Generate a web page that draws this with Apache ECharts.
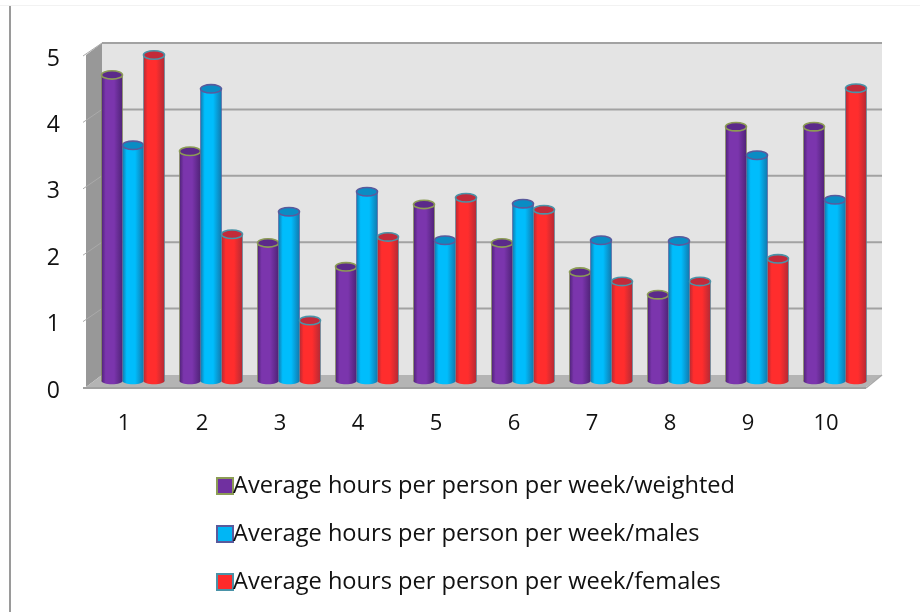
<!DOCTYPE html>
<html><head><meta charset="utf-8">
<style>html,body{margin:0;padding:0;background:#fff}#c{width:920px;height:612px}</style>
<script src="https://cdn.jsdelivr.net/npm/echarts@6/dist/echarts.min.js"></script>
</head><body><div id="c"></div>
<script>
const categories = ['1','2','3','4','5','6','7','8','9','10'];
const yTicks = [0,1,2,3,4,5];
const weighted = [4.61,3.46,2.08,1.72,2.66,2.08,1.64,1.3,3.83,3.83];
const males = [3.55,4.4,2.55,2.85,2.12,2.67,2.12,2.11,3.4,2.73];
const females = [4.91,2.21,0.91,2.17,2.76,2.58,1.5,1.5,1.84,4.41];
const seriesNames = ['Average hours per person per week/weighted','Average hours per person per week/males','Average hours per person per week/females'];

const depthX = 16, depthY = -12, barW = 21;
const styles = [
  {fill:'#7030a0', dark:'#4f2377', light:'#7b35ad', rim:'#8c9c55', top:'#5b2a8a'},
  {fill:'#00b6f5', dark:'#1279ae', light:'#00bdfc', rim:'#5a5a9c', top:'#0a8cc4'},
  {fill:'#ff2a2a', dark:'#b32a35', light:'#ff2d2d', rim:'#4a93a8', top:'#c22a3a'}
];
function cyl(idx){
  const s = styles[idx];
  const grad = {type:'linear',x:0,y:0,x2:1,y2:0,colorStops:[
    {offset:0,color:s.dark},{offset:.2,color:s.light},{offset:.6,color:s.light},{offset:1,color:s.dark}]};
  return function(params, api){
    const cat = api.value(0), v = api.value(1);
    const base = api.coord([cat,0]), tip = api.coord([cat,v]);
    const cx = base[0] + depthX/2 + (idx-1)*barW;
    const yb = base[1] + depthY/2, yt = tip[1] + depthY/2;
    const rx = barW/2, ry = 4.2;
    return {type:'group',children:[
      {type:'ellipse',shape:{cx:cx,cy:yb,rx:rx,ry:ry-1},style:{fill:grad}},
      {type:'rect',shape:{x:cx-rx,y:yt,width:barW,height:yb-yt},style:{fill:grad}},
      {type:'line',shape:{x1:cx-rx,y1:yt,x2:cx-rx,y2:yb},style:{stroke:s.rim,lineWidth:1,opacity:.6}},
      {type:'line',shape:{x1:cx+rx,y1:yt,x2:cx+rx,y2:yb},style:{stroke:s.rim,lineWidth:1,opacity:.6}},
      {type:'ellipse',shape:{cx:cx,cy:yt,rx:rx,ry:ry},style:{fill:s.top,stroke:s.rim,lineWidth:1.6}}
    ]};
  };
}
function frame(params, api){
  const cs = params.coordSys;
  const v = api.value(0);
  const y = api.coord([0,v])[1];
  const y0 = api.coord([0,0])[1], y5 = api.coord([0,5])[1];
  const L = cs.x, R = cs.x + cs.width;
  const kids = [];
  if (v === 0) {
    kids.push({type:'rect',shape:{x:L+depthX,y:y5+depthY,width:cs.width,height:y0-y5},style:{fill:'#e4e4e4'}});
    kids.push({type:'polygon',shape:{points:[[L,y5],[L+depthX,y5+depthY],[L+depthX,y0+depthY],[L,y0]]},style:{fill:'#989898'}});
    kids.push({type:'polygon',shape:{points:[[L,y0],[L+depthX,y0+depthY],[R+depthX,y0+depthY],[R,y0]]},style:{fill:'#b4b4b4'}});
    kids.push({type:'line',shape:{x1:L-3,y1:y0+1,x2:R,y2:y0+1},style:{stroke:'#a0a0a0',lineWidth:2}});
    kids.push({type:'line',shape:{x1:R,y1:y0+1,x2:R+depthX,y2:y0+depthY},style:{stroke:'#a8a8a8',lineWidth:1.5}});
  } else {
    kids.push({type:'line',shape:{x1:L+depthX,y1:y+depthY,x2:R+depthX,y2:y+depthY},style:{stroke:'#a2a2a2',lineWidth:2}});
    kids.push({type:'line',shape:{x1:L-3,y1:y+1,x2:L+depthX,y2:y+depthY},style:{stroke:'#aaaaaa',lineWidth:1}});
  }
  return {type:'group',children:kids};
}
const chart = echarts.init(document.getElementById('c'));
const font = '"Open Sans"';
chart.setOption({
  animation:false,
  backgroundColor:'#ffffff',
  graphic:[
    {type:'rect',shape:{x:9,y:5,width:2,height:607},style:{fill:'#9a9a9a'}},
    {type:'rect',shape:{x:0,y:5,width:920,height:1},style:{fill:'#f2f2f2'}}
  ],
  grid:{left:86,top:55,width:780,height:332,containLabel:false},
  xAxis:{type:'category',data:categories,
    axisLine:{show:false},axisTick:{show:false},
    axisLabel:{color:'#111',fontFamily:font,fontSize:22,margin:26,padding:[0,2,0,0]}},
  yAxis:{type:'value',min:0,max:5,interval:1,
    axisLine:{show:false},axisTick:{show:false},splitLine:{show:false},
    axisLabel:{color:'#111',fontFamily:font,fontSize:23,margin:26,verticalAlign:'top',lineHeight:8,formatter:v=>yTicks.includes(v)?String(v):''}},
  legend:{orient:'vertical',left:211,top:469,itemGap:24,itemWidth:16,itemHeight:16,icon:'rect',
    data:seriesNames,selectedMode:false,
    textStyle:{color:'#111',fontFamily:font,fontSize:23.6,padding:[0,0,0,-5]}},
  series:[
    {type:'custom',name:'frame',silent:true,z:1,renderItem:frame,data:yTicks.map(v=>[v]),encode:{x:-1,y:-1},clip:false},
    {type:'custom',name:seriesNames[0],z:2,renderItem:cyl(0),data:weighted.map((v,i)=>[i,v]),encode:{x:0,y:1},clip:false,
      itemStyle:{color:styles[0].fill,borderColor:styles[0].rim,borderWidth:2}},
    {type:'custom',name:seriesNames[1],z:3,renderItem:cyl(1),data:males.map((v,i)=>[i,v]),encode:{x:0,y:1},clip:false,
      itemStyle:{color:styles[1].fill,borderColor:styles[1].rim,borderWidth:2}},
    {type:'custom',name:seriesNames[2],z:4,renderItem:cyl(2),data:females.map((v,i)=>[i,v]),encode:{x:0,y:1},clip:false,
      itemStyle:{color:styles[2].fill,borderColor:styles[2].rim,borderWidth:2}}
  ]
});
</script></body></html>
